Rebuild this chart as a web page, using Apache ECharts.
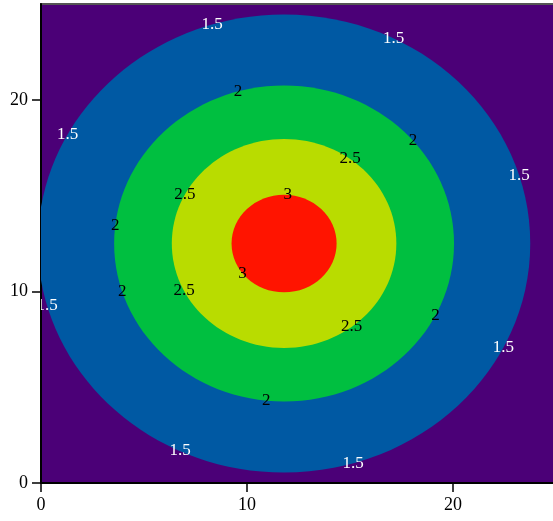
<!DOCTYPE html>
<html>
<head>
<meta charset="utf-8">
<script src="https://cdn.jsdelivr.net/npm/echarts@6/dist/echarts.min.js"></script>
<style>html,body{margin:0;padding:0;background:#fff}#c{width:553px;height:521px}</style>
</head>
<body>
<div id="c"></div>
<script>
// Contour levels (filled bands)
const levels = [1.5, 2, 2.5, 3];
// radius (data units) of each level's contour around the peak
const levelRadii = [11.95, 8.25, 5.45, 2.55];
// position of the peak (data units)
const peak = [11.8, 12.5];
// band colours: below 1.5, 1.5-2, 2-2.5, 2.5-3, above 3
const bandColors = ['#4b0077', '#0059a3', '#00bf40', '#b9dc00', '#ff1400'];
// contour label angles (degrees) along each level
const labelAngles15 = [107, 63.6, 151.6, 17.3, 195.8, -27, -115, -73.7];
const labelAngles2 = [105.7, 40.6, 173.5, 197.7, -27, -96];
const labelAngles25 = [54, 152, 207, -53];
const labelAngles3 = [86, 217.6];
const labelColors = ['#ffffff', '#000000', '#000000', '#000000'];
// axis ticks
const xTicks = [0, 10, 20];
const yTicks = [0, 10, 20];
const xRange = [0, 25];
const yRange = [0, 25];

const bandData = levels.map((lv, i) => [peak[0], peak[1], levelRadii[i], i + 1]);
const allAngles = [labelAngles15, labelAngles2, labelAngles25, labelAngles3];
const labelData = [];
allAngles.forEach((arr, li) => {
  arr.forEach(a => {
    const t = a * Math.PI / 180;
    labelData.push([peak[0] + levelRadii[li] * Math.cos(t), peak[1] + levelRadii[li] * Math.sin(t), li]);
  });
});

const chart = echarts.init(document.getElementById('c'));
const axisCommon = {
  type: 'value',
  interval: 10,
  axisLine: { show: true, lineStyle: { color: '#000', width: 2 } },
  axisTick: { show: true, length: 9, lineStyle: { color: '#000', width: 1.5 } },
  splitLine: { show: false },
};
chart.setOption({
  animation: false,
  grid: {
    left: 41, top: 4, width: 515, height: 479,
    outerBoundsMode: 'none',
    containLabel: false,
    show: true, backgroundColor: bandColors[0], borderColor: '#555', borderWidth: 2
  },
  xAxis: Object.assign({}, axisCommon, {
    min: xRange[0], max: xRange[1],
    axisTick: Object.assign({}, axisCommon.axisTick, { customValues: xTicks }),
    axisLabel: { customValues: xTicks, margin: 13, color: '#000', fontFamily: 'Liberation Serif', fontSize: 18 }
  }),
  yAxis: Object.assign({}, axisCommon, {
    min: yRange[0], max: yRange[1],
    axisTick: Object.assign({}, axisCommon.axisTick, { customValues: yTicks }),
    axisLabel: { customValues: yTicks, margin: 13, color: '#000', fontFamily: 'Liberation Serif', fontSize: 18 }
  }),
  series: [
    {
      type: 'custom',
      clip: true,
      silent: true,
      data: bandData,
      renderItem: function (params, api) {
        const c = api.coord([api.value(0), api.value(1)]);
        const s = api.size([api.value(2), api.value(2)]);
        return {
          type: 'ellipse',
          shape: { cx: c[0], cy: c[1], rx: s[0], ry: s[1] },
          style: { fill: bandColors[api.value(3)] }
        };
      },
      z: 1
    },
    {
      type: 'custom',
      clip: true,
      silent: true,
      data: labelData,
      renderItem: function (params, api) {
        const c = api.coord([api.value(0), api.value(1)]);
        const li = api.value(2);
        return {
          type: 'text',
          x: c[0], y: c[1],
          style: {
            text: String(levels[li]),
            fill: labelColors[li],
            font: '17px "Liberation Serif"',
            align: 'center',
            verticalAlign: 'middle'
          }
        };
      },
      z: 2
    }
  ]
});
</script>
</body>
</html>
